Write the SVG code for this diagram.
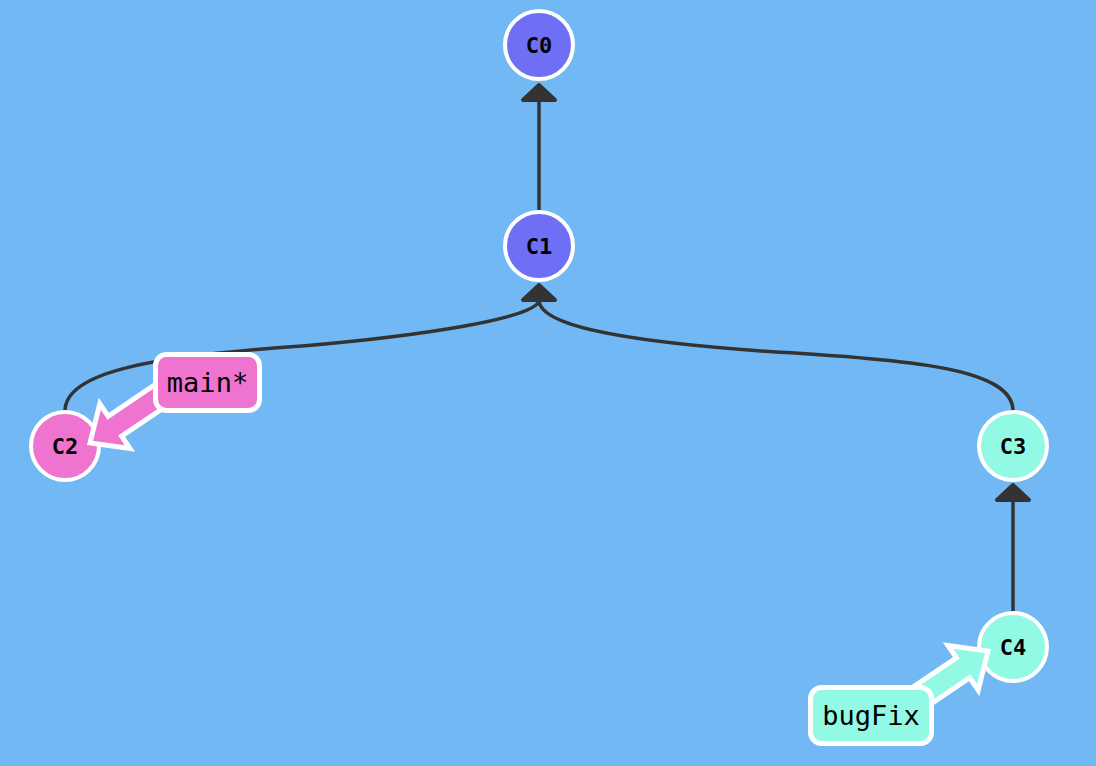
<svg xmlns="http://www.w3.org/2000/svg" width="1096" height="766" viewBox="0 0 1096 766">
<style>
.edge{fill:none;stroke:#333;stroke-width:3.5}
.head{fill:#333;stroke:#333;stroke-width:4;stroke-linejoin:round}
.commit{stroke:#fff;stroke-width:4}
.ctext{font-family:"DejaVu Sans Mono","Liberation Mono",monospace;font-weight:bold;font-size:22px;fill:#000;text-anchor:middle;dominant-baseline:central}
.btext{font-family:"DejaVu Sans Mono","Liberation Mono",monospace;font-size:27px;fill:#000;text-anchor:middle;dominant-baseline:central}
.bbox{stroke:#fff;stroke-width:5}
.barrow{stroke:#fff;stroke-width:5;stroke-linejoin:miter}
.purple{fill:#6f6ff5}
.pink{fill:#ee74cf}
.aqua{fill:#92fae4}
</style>
<rect width="1096" height="766" fill="#71b8f5"/>
<g id="connectors">
<path class="edge" d="M539,211 L539,100"/>
<polygon class="head" points="539,85 523,100 555,100"/>
<path class="edge" d="M65,411 C65,370 160,356 302,346 C420,336 539,318 539,300"/>
<path class="edge" d="M1013,411 C1013,370 920,360 776,352 C640,343 539,328 539,300"/>
<polygon class="head" points="539,285 523,300 555,300"/>
<path class="edge" d="M1013,612 L1013,500"/>
<polygon class="head" points="1013,485 997,500 1029,500"/>
</g>
<g id="C0"><circle class="commit purple" cx="539" cy="45" r="34"/><text class="ctext" x="539" y="45">C0</text></g>
<g id="C1"><circle class="commit purple" cx="539" cy="246" r="34"/><text class="ctext" x="539" y="246">C1</text></g>
<g id="C2"><circle class="commit pink" cx="65" cy="446" r="34"/><text class="ctext" x="65" y="446">C2</text></g>
<g id="C3"><circle class="commit aqua" cx="1013" cy="446" r="34"/><text class="ctext" x="1013" y="446">C3</text></g>
<g id="C4"><circle class="commit aqua" cx="1013" cy="647" r="34"/><text class="ctext" x="1013" y="647">C4</text></g>
<g id="branch-main">
<polygon class="barrow pink" points="90,443 99.8,403.8 108.2,416.2 166.3,377 179.7,397 121.6,436.2 130,448.6"/>
<rect class="bbox pink" x="155.5" y="354.5" width="104" height="56" rx="11"/>
<text class="btext" x="207.5" y="382.5">main*</text>
</g>
<g id="branch-bugFix">
<polygon class="barrow aqua" points="988,651 978.2,690.2 969.8,677.8 911.7,717 898.3,697 956.4,657.8 948,645.4"/>
<rect class="bbox aqua" x="810.5" y="687.5" width="121" height="56" rx="11"/>
<text class="btext" x="871" y="715.5">bugFix</text>
</g>
</svg>
